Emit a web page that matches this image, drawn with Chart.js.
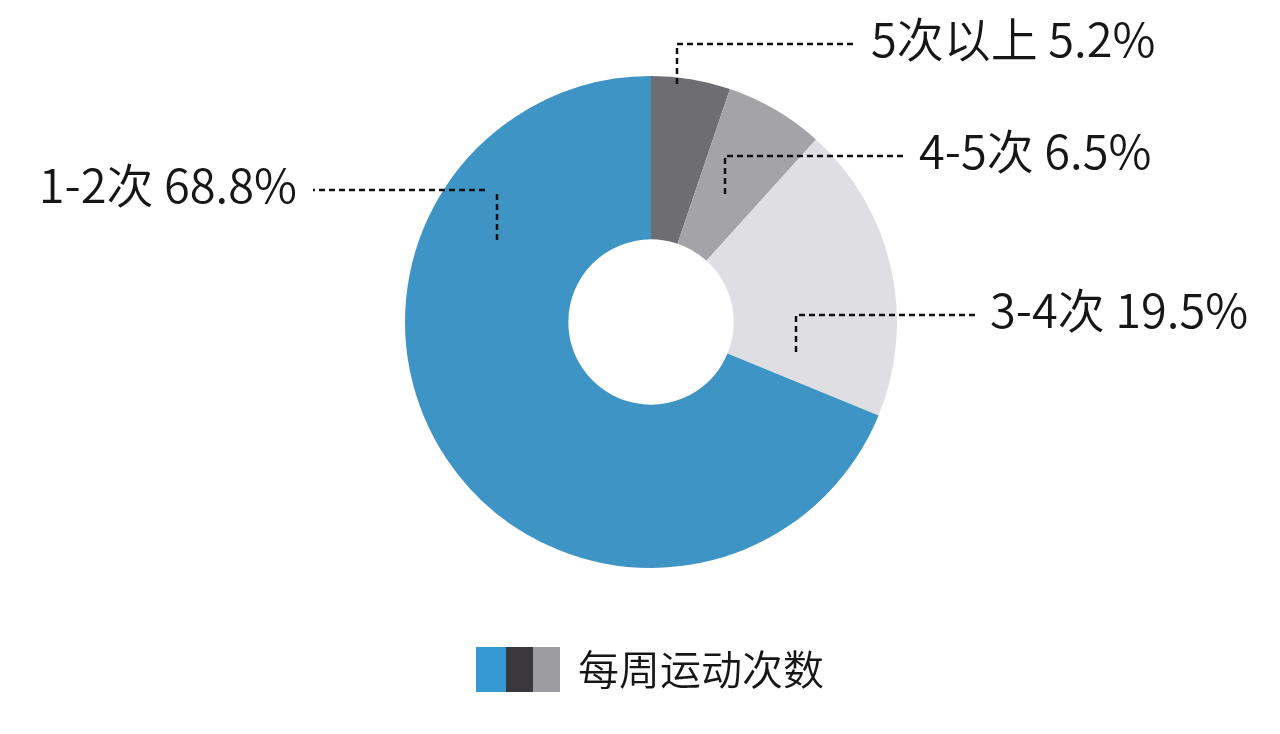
<!DOCTYPE html>
<html>
<head>
<meta charset="utf-8">
<script src="https://cdn.jsdelivr.net/npm/chart.js@4.4.0/dist/chart.umd.min.js"></script>
<style>
  html, body { margin: 0; padding: 0; background: #ffffff; }
  #wrap { width: 1280px; height: 734px; }
</style>
</head>
<body>
<div id="wrap"><canvas id="chart" width="1280" height="734"></canvas></div>
<script>
// datos (orden horario desde las 12)
const categorias = ['5次以上', '4-5次', '3-4次', '1-2次'];
const valores = [5.2, 6.5, 19.5, 68.8];
const coloresSector = ['#6e6d72', '#a4a3a8', '#dfdee3', '#3d94c5'];
const tituloLeyenda = '每周运动次数';
const coloresLeyenda = ['#3699d2', '#3a383c', '#9d9ca0'];

// donde cae la guia dentro de cada sector: t = fraccion del angulo, u = fraccion del anillo
const guias = [
    { t: 0.33, u: 0.96, caida: 40, largo: 180, hueco: 14, corte: 0, lado: 1 },
    { t: 0.48, u: 0.40, caida: 38, largo: 180, hueco: 14, corte: 0, lado: 1 },
    { t: 0.85, u: 0.40, caida: 37, largo: 180, hueco: 14, corte: 0, lado: 1 },
    { t: 0.75, u: 0.56, caida: 50, largo: 184, hueco: 16, corte: 12, lado: -1 }
];

const FUENTE = '"Noto Sans CJK SC", "Noto Sans", sans-serif';

const etiquetasPlugin = {
    id: 'etiquetas',
    afterDraw(chart) {
        const ctx = chart.ctx;
        const arcos = chart.getDatasetMeta(0).data;
        ctx.save();
        arcos.forEach((arc, i) => {
            const g = guias[i];
            const p = arc.getProps(['x', 'y', 'startAngle', 'endAngle', 'innerRadius', 'outerRadius'], true);
            const ang = p.startAngle + g.t * (p.endAngle - p.startAngle);
            const rad = p.innerRadius + g.u * (p.outerRadius - p.innerRadius);
            const ax = Math.round(p.x + Math.cos(ang) * rad);
            const ay = Math.round(p.y + Math.sin(ang) * rad);
            const ly = ay - g.caida;
            const fx = ax + g.lado * g.largo;

            ctx.strokeStyle = '#111111';
            ctx.lineWidth = 2.5;
            ctx.setLineDash([6, 4]);
            ctx.beginPath();
            ctx.moveTo(ax, ay);
            ctx.lineTo(ax, ly);
            if (g.corte) ctx.moveTo(ax + g.lado * g.corte, ly);
            ctx.lineTo(fx, ly);
            ctx.stroke();

            ctx.setLineDash([]);
            ctx.fillStyle = '#161616';
            ctx.font = '350 47px ' + FUENTE;
            ctx.textBaseline = 'alphabetic';
            ctx.textAlign = g.lado > 0 ? 'left' : 'right';
            ctx.fillText(categorias[i] + ' ' + valores[i].toFixed(1) + '%', fx + g.lado * g.hueco, ly + 13);
        });

        // leyenda inferior
        let x = 476;
        coloresLeyenda.forEach((c, i) => {
            ctx.fillStyle = c;
            const w = i === 0 ? 30 : 27;
            ctx.fillRect(x, 647, w, 45);
            x += w;
        });
        ctx.fillStyle = '#161616';
        ctx.font = '350 41px ' + FUENTE;
        ctx.textAlign = 'left';
        ctx.textBaseline = 'middle';
        ctx.fillText(tituloLeyenda, 578, 669);
        ctx.restore();
    }
};

new Chart(document.getElementById('chart').getContext('2d'), {
    type: 'doughnut',
    data: {
        labels: categorias,
        datasets: [{
            data: valores,
            backgroundColor: coloresSector,
            borderWidth: 0
        }]
    },
    options: {
        responsive: false,
        animation: false,
        cutout: '33.6%',
        layout: { padding: { top: 76, bottom: 166, left: 405, right: 383 } },
        plugins: {
            legend: { display: false },
            tooltip: { enabled: false }
        }
    },
    plugins: [etiquetasPlugin]
});
</script>
</body>
</html>
